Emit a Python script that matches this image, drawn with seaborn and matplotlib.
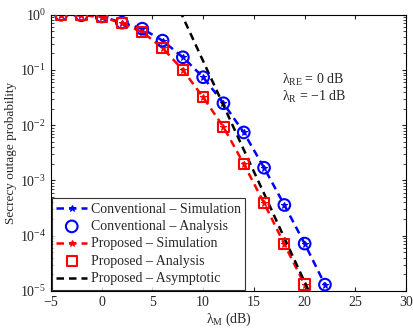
import numpy as np
import pandas as pd
import matplotlib
matplotlib.use("Agg")
import matplotlib.pyplot as plt
import seaborn as sns

# data
snr_db = [-4, -2, 0, 2, 4, 6, 8, 10, 12, 14, 16, 18, 20, 22]
conv_sim = [1.0, 0.98, 0.93, 0.72, 0.56, 0.34, 0.17, 0.074, 0.025, 0.0074, 0.0017, 3.6e-4, 7.2e-5, 1.3e-5]
conv_ana = [1.0, 0.98, 0.93, 0.72, 0.56, 0.34, 0.17, 0.074, 0.025, 0.0074, 0.0017, 3.6e-4, 7.2e-5, 1.3e-5]

snr_prop = [-4, -2, 0, 2, 4, 6, 8, 10, 12, 14, 16, 18, 20]
prop_sim = [1.0, 0.98, 0.92, 0.70, 0.49, 0.25, 0.10, 0.032, 0.0093, 0.002, 3.9e-4, 7e-5, 1.3e-5]
prop_ana = [1.0, 0.98, 0.92, 0.70, 0.49, 0.25, 0.10, 0.032, 0.0093, 0.002, 3.9e-4, 7e-5, 1.3e-5]

snr_asym = [7, 8, 10, 12, 14, 16, 18, 20, 22]
prop_asym = [2.3, 0.91, 0.145, 0.023, 3.6e-3, 5.8e-4, 9.1e-5, 1.45e-5, 2.3e-6]

sns.set_style("ticks")
plt.rcParams['font.family'] = ['Liberation Serif', 'DejaVu Serif']
plt.rcParams['mathtext.fontset'] = 'custom'
plt.rcParams['mathtext.rm'] = 'Liberation Serif'
plt.rcParams['mathtext.it'] = 'Liberation Serif'
plt.rcParams['font.size'] = 10

fig = plt.figure(figsize=(4.14, 3.28), dpi=100)
ax = fig.add_axes([0.123, 0.113, 0.858, 0.842])

dash = (3, 2)
sns.lineplot(x=snr_db, y=conv_sim, ax=ax, color='blue', lw=1.8, marker='*', markersize=5,
             markeredgecolor='blue', dashes=False, label='Conventional \u2013 Simulation')
ax.lines[-1].set_dashes(dash)
sns.scatterplot(x=snr_db, y=conv_ana, ax=ax, marker='o', s=70, facecolors='none',
                edgecolor='blue', linewidth=1.5, label='Conventional \u2013 Analysis', zorder=3)
sns.lineplot(x=snr_prop, y=prop_sim, ax=ax, color='red', lw=1.8, marker='*', markersize=5,
             markeredgecolor='red', dashes=False, label='Proposed \u2013 Simulation')
ax.lines[-1].set_dashes(dash)
sns.scatterplot(x=snr_prop, y=prop_ana, ax=ax, marker='s', s=55, facecolors='none',
                edgecolor='red', linewidth=1.5, label='Proposed \u2013 Analysis', zorder=3)
sns.lineplot(x=snr_asym, y=prop_asym, ax=ax, color='black', lw=1.8,
             dashes=False, label='Proposed \u2013 Asymptotic')
ax.lines[-1].set_dashes(dash)

ax.set_yscale('log')
ax.set_xlim(-5, 30)
ax.set_ylim(1e-5, 1)
ax.set_xticks(np.arange(-5, 31, 5))
ax.set_yticks([1e-5, 1e-4, 1e-3, 1e-2, 1e-1, 1])
ax.tick_params(which='both', direction='in', top=True, right=True, labelsize=10)
ax.tick_params(which='major', length=3)
ax.tick_params(which='minor', length=2)
for s in ax.spines.values():
    s.set_color('black')
    s.set_linewidth(0.8)

ax.set_xlabel(r'$\lambda_{\rm M}$ (dB)', fontsize=10, labelpad=1)
ax.set_ylabel('Secrecy outage probability', fontsize=9.5, labelpad=2)

ax.text(17.8, 0.055, r'$\lambda_{\rm RE}$ = 0 dB', fontsize=10)
ax.text(17.8, 0.028, r'$\lambda_{\rm R}$ = ' + '\u22121 dB', fontsize=10)

leg = ax.legend(loc='lower left', frameon=True, fancybox=False, edgecolor='black',
                fontsize=10, borderaxespad=0.1, handlelength=2.2, handletextpad=0.3,
                labelspacing=0.32, borderpad=0.3)
leg.get_frame().set_linewidth(0.8)

fig.savefig('out.png', dpi=100)
